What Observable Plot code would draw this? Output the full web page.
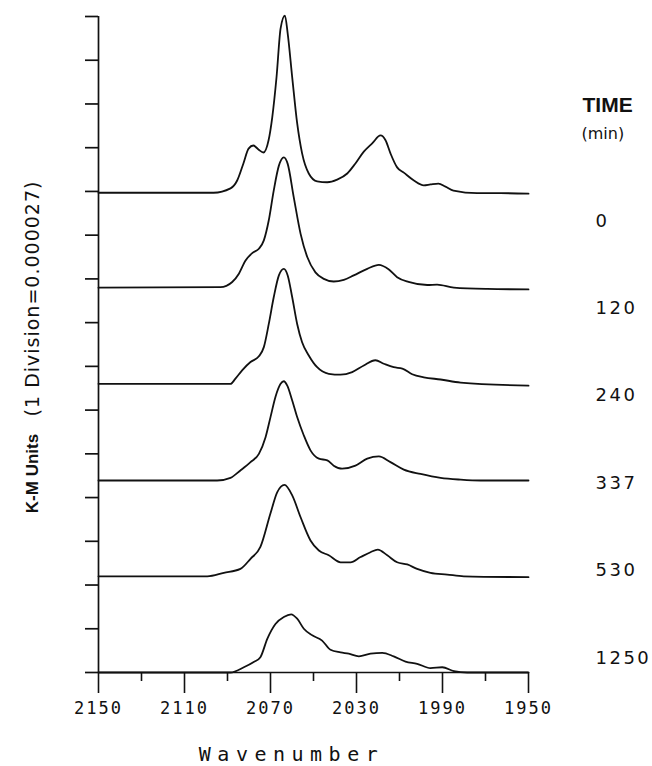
<!DOCTYPE html>
<html>
<head>
<meta charset="utf-8">
<script src="https://cdn.jsdelivr.net/npm/d3@7"></script>
<script src="https://cdn.jsdelivr.net/npm/@observablehq/plot@0.6"></script>
<style>
  html, body { margin: 0; padding: 0; background: #fff; }
  svg { display: block; }
</style>
</head>
<body>
<div id="chart"></div>
<script>
// ---- data ----
const times = [0, 120, 240, 337, 530, 1250];            // TIME (min)
const xLabelTicks = [2150, 2110, 2070, 2030, 1990, 1950]; // labelled wavenumbers
const xMinorTicks = [2130, 2090, 2050, 2010, 1970];       // unlabelled wavenumbers
const yDivisions = d3.range(0, 16);                       // K-M divisions
const xTitle = "Wavenumber";
const yTitleUnits = "K-M Units";
const yTitleScale = "(1 Division=0.000027)";
const timeTitle = "TIME";
const timeUnits = "(min)";

// spectra: [wavenumber, K-M divisions]
const spec0 = [[2150,10.97],[2096.5,10.97],[2088.6,11.07],[2085.5,11.25],[2082.6,11.64],[2080.2,11.98],[2078.0,12.05],[2075.6,11.96],[2073.3,11.89],[2070.9,12.17],[2069.2,12.69],[2067.2,13.61],[2065.3,14.73],[2063.3,15.02],[2062.0,14.61],[2059.9,13.61],[2057.6,12.56],[2055.3,11.87],[2052.2,11.41],[2048.3,11.23],[2043.6,11.21],[2039.0,11.27],[2034.3,11.41],[2030.5,11.64],[2026.6,11.91],[2022.7,12.10],[2018.8,12.28],[2016.5,12.17],[2014.2,11.87],[2011.1,11.55],[2008.0,11.43],[2003.3,11.25],[1998.7,11.14],[1995.6,11.16],[1991.9,11.18],[1988.6,11.11],[1984.9,11.02],[1973.9,10.96],[1963.0,10.96],[1950,10.95]];
const spec120 = [[2150,8.80],[2093.3,8.81],[2087.8,8.93],[2084.7,9.12],[2081.6,9.42],[2078.5,9.59],[2075.4,9.69],[2073.1,9.88],[2070.8,10.34],[2068.5,11.02],[2066.1,11.59],[2063.8,11.78],[2062.0,11.63],[2059.2,10.87],[2056.0,10.03],[2052.9,9.50],[2049.1,9.15],[2045.2,9.00],[2040.6,8.94],[2035.9,8.98],[2031.3,9.08],[2025.0,9.23],[2019.6,9.32],[2015.1,9.22],[2011.1,9.04],[2005.8,8.93],[1997.1,8.86],[1992.5,8.87],[1984.7,8.80],[1969.2,8.77],[1950,8.76]];
const spec240 = [[2150,6.60],[2088.6,6.60],[2086.3,6.72],[2083.2,6.91],[2079.3,7.10],[2075.4,7.23],[2073.1,7.44],[2070.8,7.97],[2068.5,8.58],[2066.1,9.08],[2063.8,9.23],[2062.0,9.08],[2059.9,8.58],[2057.6,7.97],[2055.3,7.55],[2052.2,7.25],[2048.3,6.98],[2042.9,6.83],[2037.4,6.81],[2032.0,6.87],[2026.6,7.02],[2021.2,7.14],[2017.3,7.06],[2012.7,6.98],[2008.7,6.95],[2004.1,6.82],[1998.7,6.75],[1990.9,6.70],[1981.6,6.63],[1950,6.56]];
const spec337 = [[2150,4.39],[2094.8,4.39],[2088.6,4.45],[2084.0,4.62],[2079.3,4.81],[2075.4,5.00],[2072.3,5.38],[2070.0,5.84],[2067.7,6.30],[2065.3,6.60],[2063.8,6.66],[2062.2,6.56],[2059.9,6.22],[2057.6,5.84],[2054.5,5.42],[2051.4,5.08],[2047.5,4.89],[2043.6,4.85],[2040.6,4.73],[2036.7,4.66],[2030.5,4.73],[2025.0,4.89],[2019.6,4.94],[2014.2,4.81],[2008.0,4.64],[2000.2,4.54],[1990.9,4.45],[1981.6,4.41],[1972.3,4.39],[1950,4.39]];
const spec530 = [[2150,2.20],[2099.4,2.20],[2091.7,2.28],[2084.0,2.37],[2079.3,2.60],[2074.7,2.87],[2070.0,3.64],[2066.9,4.12],[2063.5,4.29],[2059.9,4.05],[2056.0,3.55],[2051.4,3.02],[2047.5,2.79],[2042.9,2.68],[2037.4,2.52],[2032.8,2.52],[2028.1,2.64],[2023.5,2.75],[2020.1,2.81],[2015.7,2.68],[2011.1,2.52],[2006.4,2.47],[2001.8,2.37],[1995.6,2.28],[1987.8,2.24],[1980.1,2.20],[1950,2.18]];
const spec1250 = [[2150,0],[2088.6,0],[2082.4,0.12],[2077.8,0.24],[2074.7,0.35],[2071.5,0.77],[2067.7,1.11],[2063.8,1.27],[2060.4,1.33],[2057.6,1.23],[2054.5,1.00],[2050.6,0.85],[2046.0,0.73],[2042.1,0.52],[2037.4,0.46],[2033.6,0.43],[2028.9,0.37],[2023.5,0.43],[2018.0,0.45],[2012.7,0.37],[2007.2,0.25],[2001.8,0.20],[1995.6,0.10],[1990.1,0.12],[1984.7,0.03],[1978.5,0],[1950,0]];

const spectra = [spec0, spec120, spec240, spec337, spec530, spec1250];
const rows = times.flatMap((t, i) => spectra[i].map(([w, v]) => ({time: t, w, v})));

const xDomain = [xLabelTicks[0], xLabelTicks[xLabelTicks.length - 1]];
const yDomain = [yDivisions[0], yDivisions[yDivisions.length - 1]];

// layout of the time labels (divisions): first label sits near the axis, 2 divisions apart
const labelBase = 0.33, labelStep = 2;

const ink = "#111";

const svg = Plot.plot({
  width: 652,
  height: 766,
  marginLeft: 98,
  marginRight: 124,
  marginTop: 16,
  marginBottom: 94,
  x: {domain: xDomain, axis: null},
  y: {domain: yDomain, axis: null},
  style: {fontFamily: "DejaVu Sans", background: "white", color: ink},
  marks: [
    // axis lines
    Plot.ruleY([yDomain[0]], {x1: xDomain[0], x2: xDomain[1], stroke: ink, strokeWidth: 1.7}),
    Plot.ruleX([xDomain[0]], {y1: yDomain[0], y2: yDomain[1], stroke: ink, strokeWidth: 1.7}),
    // y ticks (outward, to the left)
    Plot.ruleY(yDivisions, {y: d => d, x1: xDomain[0], x2: xDomain[0], insetLeft: -13, stroke: ink, strokeWidth: 1.7}),
    // x ticks (downward)
    Plot.ruleX(xLabelTicks, {x: d => d, y1: yDomain[0], y2: yDomain[0], insetBottom: -21, stroke: ink, strokeWidth: 1.6}),
    Plot.ruleX(xMinorTicks, {x: d => d, y1: yDomain[0], y2: yDomain[0], insetBottom: -9, stroke: ink, strokeWidth: 1.6}),
    // x tick labels
    Plot.text(xLabelTicks, {
      x: d => d, y: yDomain[0], text: d => String(d), dy: 36, dx: 0,
      lineAnchor: "middle", textAnchor: "middle",
      fontFamily: "DejaVu Sans Mono", fontSize: 17, fill: ink
    }),
    // x title
    Plot.text([xTitle], {
      frameAnchor: "bottom", dx: -22, dy: 82, lineAnchor: "middle", textAnchor: "middle",
      fontFamily: "DejaVu Sans Mono", fontSize: 20, fill: ink
    }),
    // y title (two parts)
    Plot.text([yTitleUnits], {
      frameAnchor: "left", rotate: -90, dx: -66, dy: 129, lineAnchor: "middle", textAnchor: "middle",
      fontFamily: "Liberation Sans", fontWeight: "bold", fontSize: 17, fill: ink
    }),
    Plot.text([yTitleScale], {
      frameAnchor: "left", rotate: -90, dx: -66, dy: -46, lineAnchor: "middle", textAnchor: "middle",
      fontFamily: "DejaVu Sans", fontSize: 19, fill: ink
    }),
    // spectra
    Plot.line(rows, {x: "w", y: "v", z: "time", curve: "monotone-x", stroke: ink, strokeWidth: 1.8}),
    // TIME header
    Plot.text([timeTitle], {
      frameAnchor: "top-right", dx: 54, dy: 89, textAnchor: "start", lineAnchor: "middle",
      fontFamily: "Liberation Sans", fontWeight: "bold", fontSize: 21, fill: ink
    }),
    Plot.text([timeUnits], {
      frameAnchor: "top-right", dx: 53, dy: 117, textAnchor: "start", lineAnchor: "middle",
      fontFamily: "DejaVu Sans", fontSize: 16, fill: ink
    }),
    // time values
    Plot.text(times, {
      y: (d, i) => labelBase + labelStep * (times.length - 1 - i),
      text: d => String(d),
      frameAnchor: "right", dx: 67, textAnchor: "start", lineAnchor: "middle",
      fontFamily: "DejaVu Sans", fontSize: 18, fill: ink
    })
  ]
});

// letter spacing, matched by text content
const spacing = new Map();
xLabelTicks.forEach(d => spacing.set(String(d), 2));
times.forEach(d => spacing.set(String(d), 2.5));
spacing.set(xTitle, 6.5);
spacing.set(yTitleScale, 1);
svg.querySelectorAll("text").forEach(t => {
  const s = spacing.get(t.textContent.trim());
  if (s !== undefined) {
    t.setAttribute("letter-spacing", s + "px");
    t.style.letterSpacing = s + "px";
  }
});

document.getElementById("chart").appendChild(svg);
</script>
</body>
</html>
